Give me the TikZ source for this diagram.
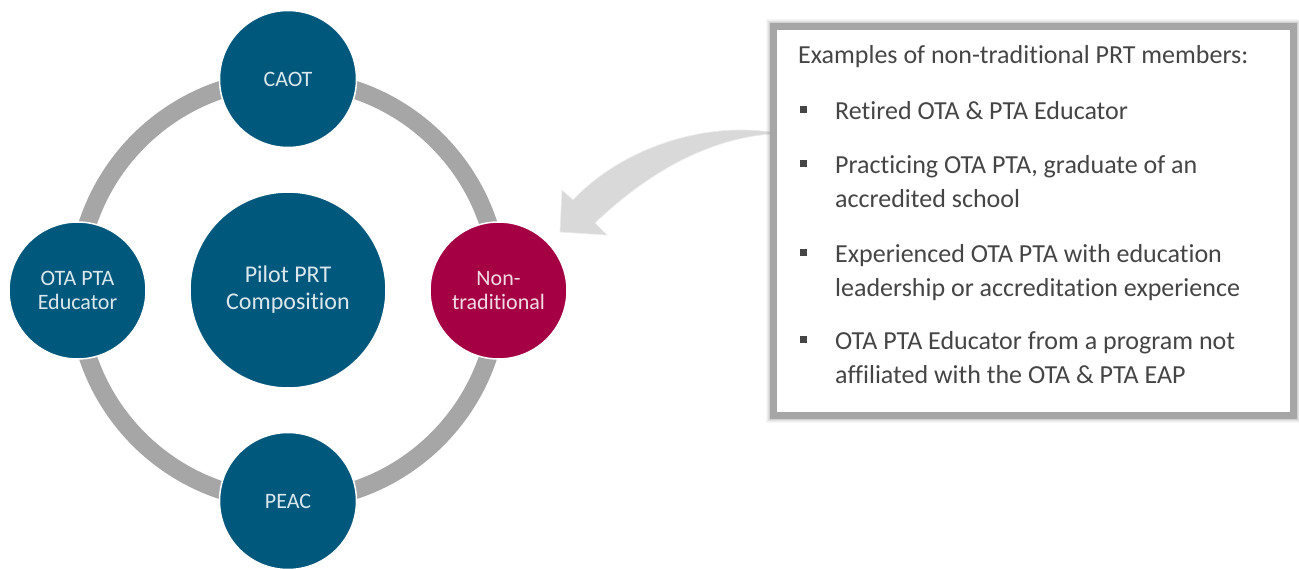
\documentclass[tikz,border=0pt]{standalone}
\usepackage{fontspec}
\setmainfont{Carlito}[Ligatures=NoCommon]
\definecolor{prtblue}{HTML}{00587C}
\definecolor{prtred}{HTML}{A50044}
\definecolor{ringgray}{HTML}{A6A6A6}
\definecolor{arrowgray}{HTML}{D9D9D9}
\definecolor{txtgray}{HTML}{454545}
\tikzset{
  member/.style={circle, minimum size=137pt, inner sep=0pt, fill=prtblue, draw=white, line width=1.5pt,
    text=white, text opacity=0.86, align=center, font=\fontsize{22}{24}\selectfont},
  hub/.style={member, minimum size=196pt, font=\fontsize{24}{27}\selectfont},
  ringline/.style={draw=ringgray, line width=18pt},
  boxtext/.style={anchor=base west, inner sep=0pt, text=txtgray, font=\fontsize{26}{34}\selectfont},
  bulletsq/.style={fill=txtgray, draw=none, minimum size=7pt, inner sep=0pt},
}
\begin{document}
\begin{tikzpicture}[x=1pt,y=-1pt]
\useasboundingbox (0,0) rectangle (1299,569);
% ring and circles
\coordinate (ringc) at (288,290);
\draw[ringline] (ringc) circle[radius=211pt];
\node[hub] (pilot) at (ringc) {Pilot PRT\\Composition};
\node[member] (caot) at (288,79) {CAOT};
\node[member] (peac) at (288,501) {PEAC};
\node[member] (otapta) at (77.5,290.5) {OTA PTA\\Educator};
\node[member, fill=prtred] (nontrad) at (498.5,290.5) {Non-\\traditional};
% curved arrow
\fill[arrowgray, draw=white!92!black, line width=0.6pt]
  (770,132) .. controls (700,122) and (620,150) .. (573,200)
  -- (562,190) -- (560,232) -- (607,235) -- (595,223)
  .. controls (640,180) and (700,140) .. (770,134) -- cycle;
% box shadow
\foreach \w/\o in {15/0.03,13/0.04,11/0.05,9/0.07}{
  \draw[black, opacity=\o, line width=\w pt] (773.5,26.5) rectangle (1293,415);
}
\node[draw=ringgray, line width=7pt, fill=white, minimum width=519.5pt, minimum height=388.5pt, inner sep=0pt] (box) at (1033.25,220.75) {};
% text
\node[boxtext] (title) at (798,64) {Examples of non-traditional PRT members:};
\node[bulletsq] (b1) at (803,110) {};
\node[boxtext] (t1) at (835,120) {Retired OTA \& PTA Educator};
\node[bulletsq] (b2) at (803,164) {};
\node[boxtext] (t2a) at (835,174) {Practicing OTA PTA, graduate of an};
\node[boxtext] (t2b) at (835,208) {accredited school};
\node[bulletsq] (b3) at (803,253) {};
\node[boxtext] (t3a) at (835,263) {Experienced OTA PTA with education};
\node[boxtext] (t3b) at (835,297) {leadership or accreditation experience};
\node[bulletsq] (b4) at (803,340) {};
\node[boxtext] (t4a) at (835,350) {OTA PTA Educator from a program not};
\node[boxtext] (t4b) at (835,384) {affiliated with the OTA \& PTA EAP};
\end{tikzpicture}
\end{document}
